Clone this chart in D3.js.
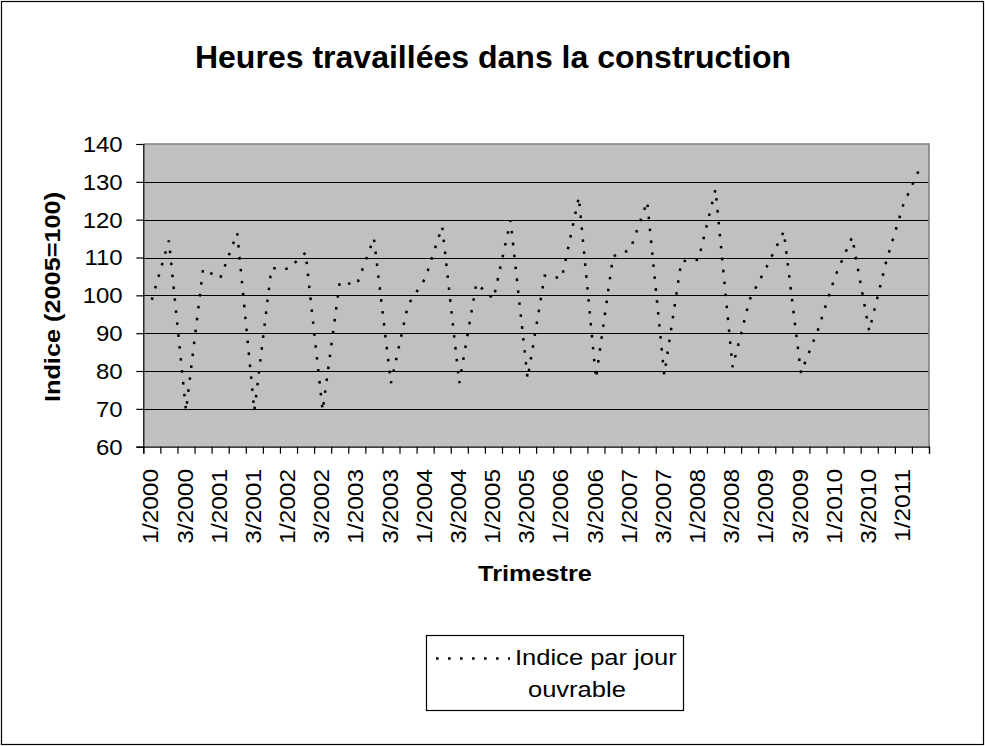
<!DOCTYPE html>
<html lang="fr">
<head>
    <meta charset="UTF-8">
    <title>Heures travaillées dans la construction</title>
    <script src="https://d3js.org/d3.v7.min.js"></script>
    <style>
        body {
            margin: 0;
            background: #fff;
            font-family: "Liberation Sans", Arial, sans-serif;
        }
        svg text {
            fill: #000;
            font-family: "Liberation Sans", Arial, sans-serif;
        }
    </style>
</head>
<body>
    <div id="chart"></div>

    <script>
        // Quarterly series, 1/2000 .. 2/2011
        const years = [2000, 2001, 2002, 2003, 2004, 2005, 2006, 2007, 2008, 2009, 2010, 2011];
        const quarters = years.flatMap(y => [1, 2, 3, 4].map(q => q + '/' + y)).slice(0, 46);

        const indexValues = [
            98.8, 114.5, 69.5, 107,
            104.5, 116.5, 69.5, 107.2,
            107, 111.3, 69.5, 103.5,
            102.8, 115.1, 76.8, 97.5,
            104.4, 118.2, 76.8, 103.2,
            99, 119.8, 78, 105.2,
            104.5, 126, 78, 110.3,
            112, 124.8, 79, 109,
            109.4, 128, 81, 98.9,
            107.6, 116.9, 79.5, 90.9,
            105, 115.4, 90.6, 109,
            124, 134
        ];

        const yTicks = [60, 70, 80, 90, 100, 110, 120, 130, 140];
        const seriesName = ['Indice par jour', 'ouvrable'];

        const W = 985, H = 746;
        const plot = { left: 143.3, right: 929, top: 144, bottom: 446.7 };

        const svg = d3.select('#chart').append('svg')
            .attr('width', W)
            .attr('height', H);

        // text drawn a little wider, like the original renderer
        function label(parent, str, px, py, opts) {
            const o = Object.assign({ size: 22, bold: false, sx: 1.12, anchor: 'start', rotate: 0, dy: null }, opts);
            const t = parent.append('text')
                .attr('transform', `translate(${px},${py}) rotate(${o.rotate}) scale(${o.sx},1)`)
                .attr('text-anchor', o.anchor)
                .style('font-size', o.size + 'px')
                .style('font-weight', o.bold ? 'bold' : 'normal')
                .text(str);
            if (o.dy) t.attr('dy', o.dy);
            return t;
        }

        // chart area border
        svg.append('rect')
            .attr('x', 1.5).attr('y', 1.5)
            .attr('width', W - 3).attr('height', H - 3)
            .attr('fill', '#fff')
            .attr('stroke', '#000')
            .attr('stroke-width', 1.2);

        const x = d3.scaleBand()
            .domain(quarters)
            .range([plot.left, plot.right])
            .padding(0);

        const xEdges = d3.scaleLinear()
            .domain([0, quarters.length])
            .range([plot.left, plot.right]);

        const y = d3.scaleLinear()
            .domain([60, 140])
            .range([plot.bottom, plot.top]);

        // plot area
        svg.append('rect')
            .attr('x', plot.left).attr('y', plot.top)
            .attr('width', plot.right - plot.left)
            .attr('height', plot.bottom - plot.top)
            .attr('fill', '#c0c0c0');

        // gridlines
        svg.append('g')
            .selectAll('line')
            .data(yTicks.filter(t => t > 60 && t < 140))
            .enter().append('line')
            .attr('x1', plot.left).attr('x2', plot.right)
            .attr('y1', d => Math.round(y(d)) + 0.5)
            .attr('y2', d => Math.round(y(d)) + 0.5)
            .attr('stroke', '#000')
            .attr('stroke-width', 1);

        // plot border (top / right)
        svg.append('path')
            .attr('d', `M${plot.left},${plot.top}H${plot.right}V${plot.bottom}`)
            .attr('fill', 'none')
            .attr('stroke', '#808080')
            .attr('stroke-width', 1.6);

        // y axis
        const yAxis = svg.append('g')
            .attr('transform', `translate(${plot.left},0)`)
            .call(d3.axisLeft(y).tickValues(yTicks).tickSize(7).tickFormat(''));
        yAxis.select('.domain').attr('stroke', '#000').attr('stroke-width', 1.2);
        yAxis.selectAll('.tick line').attr('stroke', '#000').attr('stroke-width', 1.2);

        const yLabels = svg.append('g');
        yTicks.forEach(t => {
            label(yLabels, t, 122.7, y(t), { anchor: 'end', sx: 1.09, dy: '0.36em' });
        });

        // x axis ticks between categories
        const xAxis = svg.append('g')
            .attr('transform', `translate(0,${plot.bottom})`)
            .call(d3.axisBottom(xEdges)
                .tickValues(d3.range(quarters.length + 1))
                .tickSize(7)
                .tickFormat(''));
        xAxis.select('.domain').attr('stroke', '#000').attr('stroke-width', 1.2);
        xAxis.selectAll('.tick line').attr('stroke', '#000').attr('stroke-width', 1.2);

        // x labels, every second quarter
        const xLabels = svg.append('g');
        quarters.filter((q, i) => i % 2 === 0).forEach(q => {
            label(xLabels, q, x(q) + x.bandwidth() / 2, 469, { anchor: 'end', rotate: -90, sx: 1.11, dy: '0.3em' });
        });

        // series
        const line = d3.line()
            .x((d, i) => x(quarters[i]) + x.bandwidth() / 2)
            .y(d => y(d));

        svg.append('path')
            .datum(indexValues)
            .attr('d', line)
            .attr('fill', 'none')
            .attr('stroke', '#000')
            .attr('stroke-width', 2.5)
            .attr('stroke-dasharray', '2.6,9.4');

        // titles
        label(svg, 'Heures travaillées dans la construction', 493, 68,
            { size: 30.5, bold: true, sx: 1.05, anchor: 'middle' });
        label(svg, 'Indice (2005=100)', 60, 297,
            { bold: true, sx: 1.15, anchor: 'middle', rotate: -90 });
        label(svg, 'Trimestre', 535, 580.5,
            { bold: true, sx: 1.15, anchor: 'middle' });

        // legend
        const legend = svg.append('g');
        legend.append('rect')
            .attr('x', 426.5).attr('y', 635.5)
            .attr('width', 257).attr('height', 75)
            .attr('fill', '#fff')
            .attr('stroke', '#000')
            .attr('stroke-width', 1.2);
        legend.append('line')
            .attr('x1', 436).attr('x2', 510)
            .attr('y1', 658.5).attr('y2', 658.5)
            .attr('stroke', '#000')
            .attr('stroke-width', 2.5)
            .attr('stroke-dasharray', '2.6,9.4');
        label(legend, seriesName[0], 515, 665, { sx: 1.16 });
        label(legend, seriesName[1], 528, 696.5, { sx: 1.16 });
    </script>
</body>
</html>
